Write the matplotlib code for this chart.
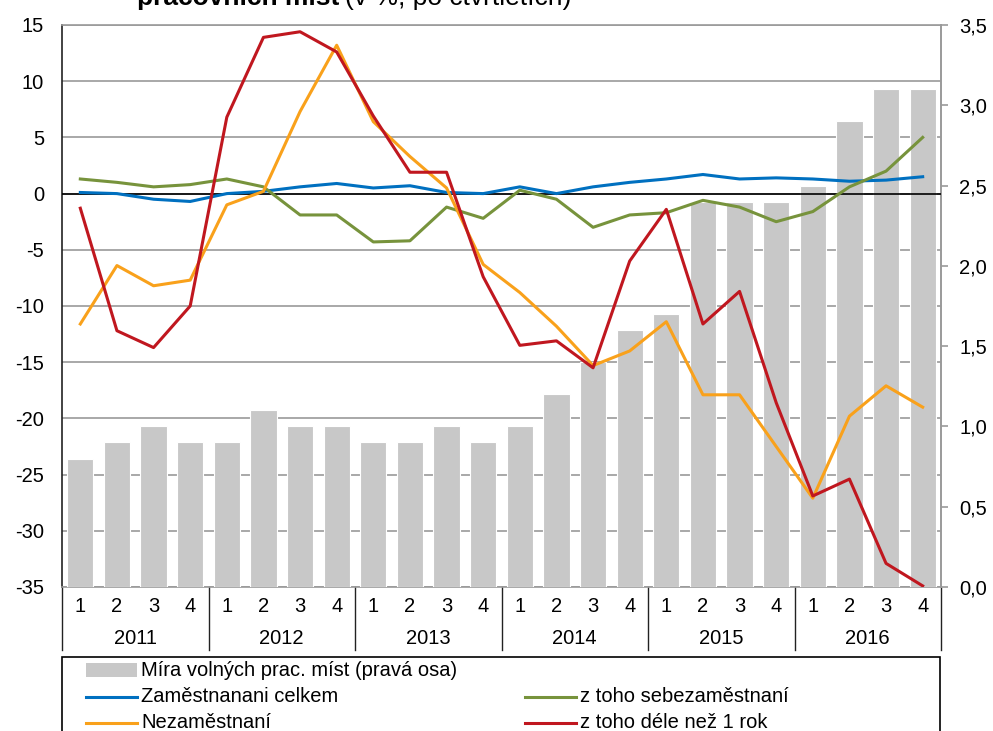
import matplotlib
matplotlib.use('Agg')
import matplotlib.pyplot as plt
import numpy as np
from matplotlib.patches import Rectangle
from matplotlib.lines import Line2D
from matplotlib.transforms import blended_transform_factory

plt.rcParams['font.family'] = ['Liberation Sans', 'DejaVu Sans']

years = ['2011', '2012', '2013', '2014', '2015', '2016']
quarters = ['1', '2', '3', '4']

# vacancy rate (right axis), %
vacancy = [0.8, 0.9, 1.0, 0.9, 0.9, 1.1, 1.0, 1.0, 0.9, 0.9, 1.0, 0.9,
           1.0, 1.2, 1.4, 1.6, 1.7, 2.4, 2.4, 2.4, 2.5, 2.9, 3.1, 3.1]
# y/y changes, % (left axis)
employed = [0.1, 0.0, -0.5, -0.7, 0.0, 0.2, 0.6, 0.9, 0.5, 0.7, 0.1, 0.0,
            0.6, 0.0, 0.6, 1.0, 1.3, 1.7, 1.3, 1.4, 1.3, 1.1, 1.2, 1.5]
self_employed = [1.3, 1.0, 0.6, 0.8, 1.3, 0.6, -1.9, -1.9, -4.3, -4.2, -1.2, -2.2,
                 0.3, -0.5, -3.0, -1.9, -1.7, -0.6, -1.2, -2.5, -1.6, 0.6, 2.0, 5.0]
unemployed = [-11.6, -6.4, -8.2, -7.7, -1.0, 0.2, 7.3, 13.2, 6.4, 3.3, 0.5, -6.3,
              -8.8, -11.8, -15.3, -14.0, -11.4, -17.9, -17.9, -22.5, -27.1, -19.8, -17.1, -19.0]
long_term = [-1.3, -12.2, -13.7, -10.0, 6.8, 13.9, 14.4, 12.6, 6.9, 1.9, 1.9, -7.4,
             -13.5, -13.1, -15.5, -6.0, -1.4, -11.6, -8.7, -18.6, -26.9, -25.4, -32.9, -34.9]

c_bar = '#c8c8c8'
c_blue = '#0070c0'
c_green = '#77933c'
c_orange = '#f9a11b'
c_red = '#c0171f'
c_grid = '#9a9a9a'
fs = 14.5

W, H = 993, 731
def fx(px):
    return px / W
def fy(py):
    return 1 - py / H

fig = plt.figure(figsize=(W / 100, H / 100), dpi=100)
rect = [fx(62), fy(587), fx(941) - fx(62), fy(25) - fy(587)]

# bottom: left scale + grid
ax = fig.add_axes(rect)
ax.set_ylim(-35, 15)
ax.set_xlim(-0.5, 23.5)
ax.set_yticks(np.arange(-35, 16, 5))
ax.set_yticklabels([str(v) for v in range(-35, 16, 5)], fontsize=fs)
ax.tick_params(axis='y', length=0, pad=13)
ax.tick_params(axis='x', length=0, labelbottom=False)
ax.grid(axis='y', color=c_grid, lw=1.2)
ax.set_axisbelow(True)
for s in ['top', 'bottom', 'right']:
    ax.spines[s].set_color(c_grid)
    ax.spines[s].set_linewidth(1.2)
ax.spines['left'].set_color('#222222')
ax.spines['left'].set_linewidth(1.2)

# middle: bars on right scale
ax2 = ax.twinx()
x = np.arange(len(vacancy))
ax2.bar(x, vacancy, width=0.72, color=c_bar, edgecolor='white', linewidth=0.8)
ax2.set_ylim(0, 3.5)
ax2.set_yticks(np.arange(0, 3.51, 0.5))
ax2.set_yticklabels([f'{v:.1f}'.replace('.', ',') for v in np.arange(0, 3.51, 0.5)], fontsize=fs)
ax2.tick_params(axis='y', length=5, color=c_grid, pad=8, width=1.2)
ax2.spines['right'].set_color(c_grid)
ax2.spines['right'].set_linewidth(1.2)
for s in ['top', 'bottom', 'left']:
    ax2.spines[s].set_visible(False)
ax2.patch.set_visible(False)

# top: lines on left scale
ax3 = ax.twinx()
ax3.set_ylim(-35, 15)
ax3.set_xlim(-0.5, 23.5)
ax3.axis('off')
ax3.axhline(0, color='black', lw=1.2)
lw = 2.2
ax3.plot(x, employed, color=c_blue, lw=lw)
ax3.plot(x, self_employed, color=c_green, lw=lw)
ax3.plot(x, unemployed, color=c_orange, lw=lw)
ax3.plot(x, long_term, color=c_red, lw=lw)

# category axis: quarters and years
tr = blended_transform_factory(ax.transData, ax.transAxes)
h_ax = 562
for i in range(len(vacancy)):
    ax.text(i, -20 / h_ax, quarters[i % 4], transform=tr, ha='center', va='center', fontsize=fs)
for k, yr in enumerate(years):
    ax.text(4 * k + 1.5, -51 / h_ax, yr, transform=tr, ha='center', va='center', fontsize=fs)
for k in range(len(years) + 1):
    ax.add_line(Line2D([4 * k - 0.5, 4 * k - 0.5], [0, -63 / h_ax], transform=tr,
                       color='#222222', lw=1, clip_on=False))

# title (cut off at the top edge, as in the source)
t1 = fig.text(fx(137), fy(5), 'pracovních míst', fontsize=19, fontweight='bold',
              va='baseline', ha='left')
fig.canvas.draw()
bb = t1.get_window_extent()
fig.text(bb.x1 / W + fx(6), fy(5), '(v %, po čtvrtletích)', fontsize=19,
         va='baseline', ha='left')

# legend box
fig.patches.append(Rectangle((fx(62), fy(760)), fx(940) - fx(62), fy(657) - fy(760),
                             transform=fig.transFigure, facecolor='white',
                             edgecolor='black', lw=1.2))
fig.patches.append(Rectangle((fx(86), fy(677)), fx(137) - fx(86), fy(663) - fy(677),
                             transform=fig.transFigure, facecolor=c_bar, edgecolor='none'))
fig.text(fx(141), fy(670), 'Míra volných prac. míst (pravá osa)', fontsize=fs, va='center')
entries = [(86, 697, c_blue, 'Zaměstnanani celkem'),
           (525, 697, c_green, 'z toho sebezaměstnaní'),
           (86, 723, c_orange, 'Nezaměstnaní'),
           (525, 723, c_red, 'z toho déle než 1 rok')]
for px, py, col, lab in entries:
    fig.add_artist(Line2D([fx(px), fx(px + 51)], [fy(py), fy(py)], transform=fig.transFigure,
                          color=col, lw=lw))
    fig.text(fx(px + 55), fy(py), lab, fontsize=fs, va='center')

fig.savefig('out.png', dpi=100)
